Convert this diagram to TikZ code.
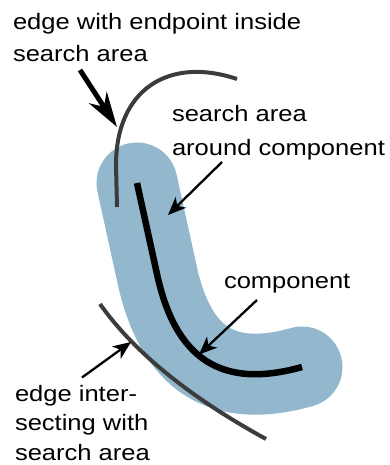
\documentclass[tikz,border=0pt]{standalone}
\usepackage{fontspec}
\setmainfont{Liberation Sans}[FakeStretch=1.145]
\usetikzlibrary{arrows.meta}
\definecolor{areablue}{HTML}{93B8CE}
\definecolor{edgegray}{HTML}{3C3C3C}
\tikzset{
  searcharea/.style={draw=areablue, line width=81pt, line cap=round},
  comppath/.style={draw=black, line width=6.5pt},
  graph edge/.style={draw=edgegray, line width=4pt},
  bigarrow/.style={draw=black, line width=5pt, -{Stealth[length=35pt,width=21pt,inset=11pt]}},
  thinarrow/.style={draw=black, line width=2.3pt, -{Stealth[length=18pt,width=15pt,inset=5pt]}},
  lbl/.style={anchor=base west, inner sep=0pt, outer sep=0pt, font=\fontsize{22.3}{26}\selectfont, text=black},
}
\begin{document}
\begin{tikzpicture}[x=1pt,y=-1pt]
\useasboundingbox (0,0) rectangle (390,465);
% search area and component
\def\comppathdef{(137,183) -- (157.2,275) .. controls (175.9,359.9) and (222.2,389.4) .. (302,367)}
\path[searcharea] \comppathdef;
\path[comppath] \comppathdef;
% edges
\path[graph edge] (117,207) -- (116,165) .. controls (116,90) and (168,56) .. (237,79);
\path[graph edge] (100,304) .. controls (134,352) and (189.3,397) .. (266,439);
% labels
\node[lbl] (t1a) at (13,30) {edge with endpoint inside};
\node[lbl] (t1b) at (13,62) {search area};
\node[lbl] (t2a) at (172,122) {search area};
\node[lbl] (t2b) at (172,155) {around component};
\node[lbl] (t3) at (224,288) {component};
\node[lbl] (t4a) at (15,401) {edge inter-};
\node[lbl] (t4b) at (15,430.5) {secting with};
\node[lbl] (t4c) at (15,460) {search area};
% arrow end points
\coordinate (a1s) at (80,70);
\coordinate (a1t) at (117,127);
\coordinate (a2s) at (222,162);
\coordinate (a2t) at (168,215);
\coordinate (a3s) at (257,300);
\coordinate (a3t) at (199,354.5);
\coordinate (a4s) at (82,377.5);
\coordinate (a4t) at (131,342);
\draw[bigarrow] (a1s) -- (a1t);
\draw[thinarrow] (a2s) -- (a2t);
\draw[thinarrow] (a3s) -- (a3t);
\draw[thinarrow] (a4s) -- (a4t);
\end{tikzpicture}
\end{document}
